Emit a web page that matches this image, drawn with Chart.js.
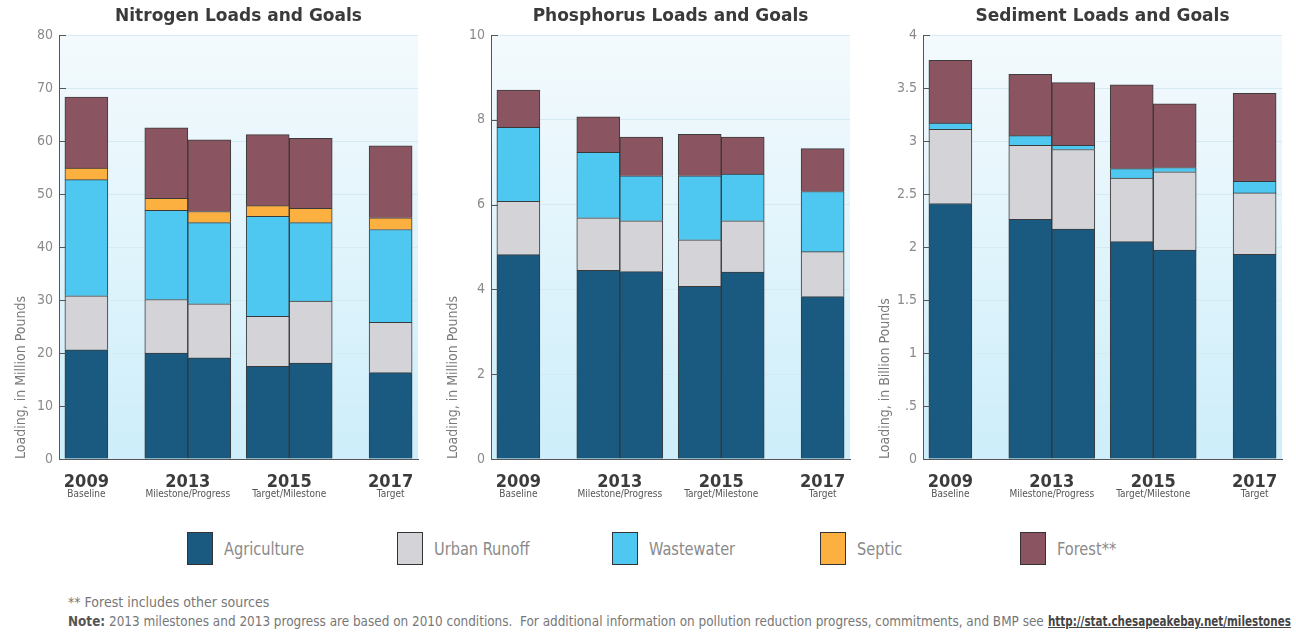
<!DOCTYPE html>
<html>
<head>
<meta charset="utf-8">
<script src="https://cdn.jsdelivr.net/npm/chart.js@4.4.1/dist/chart.umd.min.js"></script>
<style>
  body { margin: 0; background: #fff; width: 1296px; height: 637px; overflow: hidden; position: relative;
         font-family: "Liberation Sans Narrow", "DejaVu Sans Condensed", sans-serif; }
  canvas { position: absolute; top: 0; }
  #legend { position: absolute; top: 532px; left: 187px; display: grid;
            grid-template-columns: 210px 215px 208px 200px 200px; }
  .item { display: flex; align-items: center; }
  .sw { width: 26px; height: 33px; border: 1px solid #333; box-sizing: border-box; margin-right: 11px; }
  .lbl { color: #8a8a8a; font-size: 18px; display: inline-block; transform: scaleX(0.9); transform-origin: left center; }
  #notes { position: absolute; left: 68px; top: 593px; color: #777; font-size: 14px; line-height: 19px; white-space: nowrap; }
  #notes .line { transform: scaleX(0.957); transform-origin: left center; }
  #notes b { color: #555; }
  #notes a { display: inline-block; color: #444; font-weight: bold; text-decoration: underline;
             transform: scaleX(0.86); transform-origin: left center; }
</style>
</head>
<body>
<canvas id="nitrogen" width="432" height="500" style="left:0px"></canvas>
<canvas id="phosphorus" width="432" height="500" style="left:432px"></canvas>
<canvas id="sediment" width="432" height="500" style="left:864px"></canvas>
<div id="legend"></div>
<div id="notes">
  <div>** Forest includes other sources</div>
  <div class="line"><b>Note:</b> 2013 milestones and 2013 progress are based on 2010 conditions.&nbsp; For additional information on pollution reduction progress, commitments, and BMP see <a>http://stat.chesapeakebay.net/milestones</a></div>
</div>
<script>
const years = ['2009', '2013', '2015', '2017'];
const yearNotes = ['Baseline', 'Milestone/Progress', 'Target/Milestone', 'Target'];
const sources = ['Agriculture', 'Urban Runoff', 'Wastewater', 'Septic', 'Forest**'];
const sourceColors = ['#1b5a80', '#d4d4d8', '#4fc8f1', '#fbb040', '#8b5461'];

// six bars: the year each one sits under, and left (0) / right (1) within that year
const barYear = [0, 1, 1, 2, 2, 3];
const barSide = [0, 0, 1, 0, 1, 0];

// rows follow `sources`, columns follow the six bars
const nitrogen = [
  [20.6, 20.0, 19.1, 17.5, 18.1, 16.3],
  [10.2, 10.1, 10.2, 9.4, 11.7, 9.5],
  [21.9, 16.8, 15.3, 18.9, 14.8, 17.5],
  [2.2, 2.3, 2.1, 2.0, 2.7, 2.2],
  [13.4, 13.3, 13.5, 13.4, 13.2, 13.6]
];
const phosphorus = [
  [4.82, 4.45, 4.42, 4.07, 4.41, 3.83],
  [1.26, 1.24, 1.20, 1.10, 1.21, 1.06],
  [1.74, 1.54, 1.06, 1.51, 1.10, 1.42],
  [0, 0, 0, 0, 0, 0],
  [0.88, 0.84, 0.91, 0.98, 0.87, 1.01]
];
const sediment = [
  [2.41, 2.26, 2.17, 2.05, 1.97, 1.93],
  [0.70, 0.70, 0.75, 0.60, 0.74, 0.58],
  [0.06, 0.09, 0.04, 0.09, 0.04, 0.11],
  [0, 0, 0, 0, 0, 0],
  [0.59, 0.58, 0.59, 0.79, 0.60, 0.83]
];

const narrow = '"Liberation Sans Narrow", "DejaVu Sans Condensed", sans-serif';

function buildDatasets(values) {
  const sets = [];
  [0, 1].forEach(side => {
    sources.forEach((name, s) => {
      const data = years.map((y, i) => {
        const b = barYear.findIndex((yr, k) => yr === i && barSide[k] === side);
        return { x: i, y: b < 0 ? null : values[s][b] };
      });
      sets.push({
        label: name,
        data: data,
        stack: 'side' + side,
        backgroundColor: sourceColors[s],
        borderColor: 'rgba(40,40,40,0.9)',
        borderWidth: 1,
        barThickness: 43,
        skipNull: true
      });
    });
  });
  return sets;
}

const panelDecor = {
  id: 'panelDecor',
  beforeDraw(chart) {
    const ctx = chart.ctx, a = chart.chartArea;
    const g = ctx.createLinearGradient(0, a.top, 0, a.bottom);
    g.addColorStop(0, '#f4fafd');
    g.addColorStop(1, '#cdeefa');
    ctx.save();
    ctx.fillStyle = g;
    ctx.fillRect(a.left, a.top, a.right - a.left, a.bottom - a.top);
    ctx.restore();
  },
  afterDraw(chart, args, opts) {
    const ctx = chart.ctx, a = chart.chartArea, sx = chart.scales.x, sy = chart.scales.y;
    ctx.save();
    ctx.fillStyle = '#3a3a3a';
    ctx.font = 'bold 17px "DejaVu Sans"';
    ctx.textAlign = 'center';
    ctx.textBaseline = 'middle';
    ctx.fillText(opts.heading, (a.left + a.right) / 2, 17);

    // short tick marks on the inside of the y axis
    ctx.strokeStyle = '#555';
    ctx.lineWidth = 1;
    sy.ticks.forEach(t => {
      const y = Math.round(sy.getPixelForValue(t.value)) + 0.5;
      ctx.beginPath();
      ctx.moveTo(a.left, y);
      ctx.lineTo(a.left + 7, y);
      ctx.stroke();
    });

    // small caption under each year
    ctx.fillStyle = '#555';
    ctx.font = '10px ' + narrow;
    yearNotes.forEach((n, i) => ctx.fillText(n, sx.getPixelForValue(i), 494));
    ctx.restore();
  }
};

function makeChart(id, heading, values, yMax, yStep, yTitle, fmt) {
  new Chart(document.getElementById(id), {
    type: 'bar',
    data: { datasets: buildDatasets(values) },
    plugins: [panelDecor],
    options: {
      responsive: false,
      animation: false,
      layout: { padding: { top: 35, right: 14, bottom: 0, left: 0 } },
      plugins: {
        legend: { display: false },
        tooltip: { enabled: false },
        panelDecor: { heading: heading }
      },
      scales: {
        x: {
          type: 'linear',
          stacked: true,
          offset: false,
          min: -0.27,
          max: 3.27,
          afterBuildTicks: scale => { scale.ticks = years.map((y, i) => ({ value: i })); },
          afterFit: scale => { scale.height = 41; },
          grid: { display: false },
          border: { display: true, color: '#555', width: 1 },
          ticks: {
            autoSkip: false,
            maxRotation: 0,
            padding: 5,
            color: '#3c3c3c',
            font: { family: narrow, size: 18, weight: 'bold' },
            callback: v => years[v]
          }
        },
        y: {
          stacked: true,
          min: 0,
          max: yMax,
          afterFit: scale => { scale.width = 59; },
          grid: { color: 'rgba(214,234,243,1)', drawTicks: false },
          border: { display: true, color: '#555', width: 1 },
          ticks: {
            stepSize: yStep,
            padding: 6,
            color: '#8a8a8a',
            font: { family: narrow, size: 14 },
            callback: fmt
          },
          title: {
            display: true,
            text: yTitle,
            align: 'start',
            color: '#7a7a7a',
            font: { family: narrow, size: 14 },
            padding: { top: 13, bottom: 0 }
          }
        }
      }
    }
  });
}

makeChart('nitrogen', 'Nitrogen Loads and Goals', nitrogen, 80, 10,
  'Loading, in Million Pounds', v => String(v));
makeChart('phosphorus', 'Phosphorus Loads and Goals', phosphorus, 10, 2,
  'Loading, in Million Pounds', v => String(v));
makeChart('sediment', 'Sediment Loads and Goals', sediment, 4, 0.5,
  'Loading, in Billion Pounds', v => (v === 0.5 ? '.5' : String(v)));

// shared legend for the three panels
const legend = document.getElementById('legend');
sources.forEach((name, s) => {
  const item = document.createElement('div');
  item.className = 'item';
  item.innerHTML = '<span class="sw" style="background:' + sourceColors[s] + '"></span><span class="lbl">' + name + '</span>';
  legend.appendChild(item);
});
</script>
</body>
</html>
